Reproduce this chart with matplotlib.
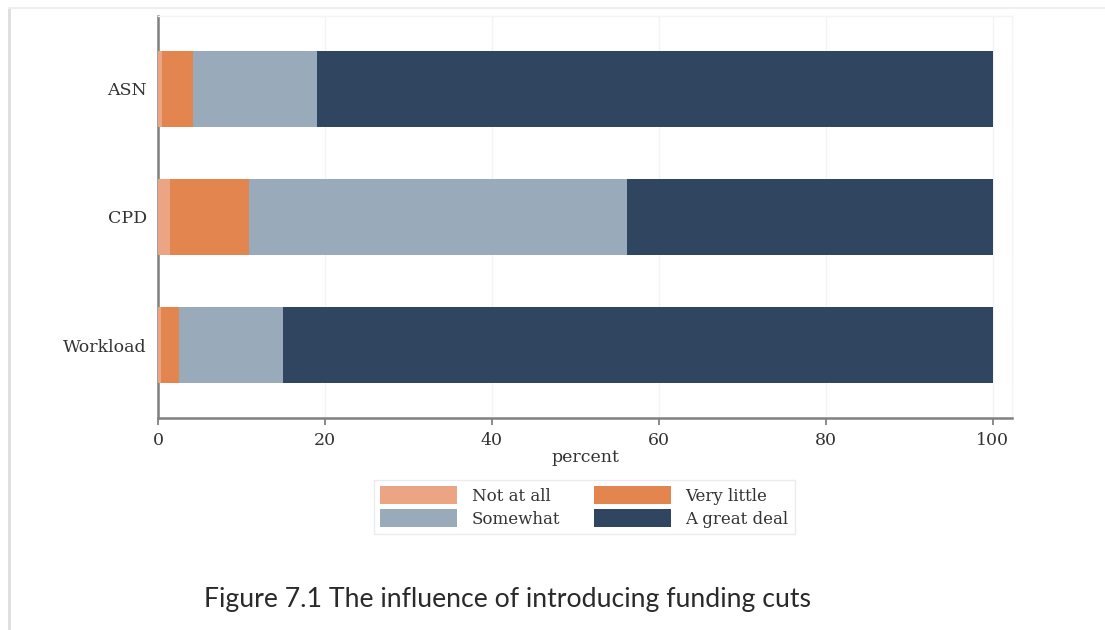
import matplotlib
matplotlib.use("Agg")
import matplotlib.pyplot as plt
import numpy as np
from matplotlib.lines import Line2D

categories = ["Workload", "CPD", "ASN"]
series_names = ["Not at all", "Very little", "Somewhat", "A great deal"]
not_at_all = [0.4, 1.4, 0.5]
very_little = [2.1, 9.5, 3.7]
somewhat = [12.5, 45.3, 14.8]
great_deal = [85.0, 43.8, 81.0]
colors = ["#EBA585", "#E2854F", "#99AABA", "#2F4560"]
xticks = [0, 20, 40, 60, 80, 100]

W, H = 1105, 630
fig = plt.figure(figsize=(W / 100, H / 100), dpi=100)
fig.patch.set_facecolor("white")

ax = fig.add_axes([158 / W, 1 - 418 / H, (1012 - 158) / W, (418 - 16) / H])

serif = ["DejaVu Serif"]
y = np.arange(len(categories))
left = np.zeros(len(categories))
handles = []
for vals, name, c in zip([not_at_all, very_little, somewhat, great_deal], series_names, colors):
    b = ax.barh(y, vals, left=left, height=0.59, color=c, label=name, zorder=3, linewidth=0)
    handles.append(b)
    left += np.array(vals)

ax.set_xlim(0, 102.3)
ax.set_ylim(-0.57, 2.57)
ax.set_yticks(y)
ax.set_yticklabels(categories, fontfamily=serif, fontsize=12.5, color="#333333")
ax.set_xticks(xticks)
ax.set_xticklabels([str(t) for t in xticks], fontfamily=serif, fontsize=12.5, color="#333333")
ax.set_xlabel("percent", fontfamily=serif, fontsize=12.5, color="#333333", labelpad=0)

ax.tick_params(axis="x", length=5, width=1.2, color="#777777", pad=5)
ax.tick_params(axis="y", length=0, pad=8)
ax.grid(axis="x", color="#F3F3F3", linewidth=1, zorder=0)

for s in ["left", "bottom"]:
    ax.spines[s].set_color("#808080")
    ax.spines[s].set_linewidth(1.8)
for s in ["top", "right"]:
    ax.spines[s].set_color("#F4F4F4")
    ax.spines[s].set_linewidth(1)

order = [0, 2, 1, 3]
leg = fig.legend([handles[i] for i in order], [series_names[i] for i in order],
                 loc="center", bbox_to_anchor=(584.5 / W, 1 - 507 / H), ncol=2,
                 prop={"family": serif, "size": 12}, frameon=True, fancybox=False,
                 handlelength=4.6, handleheight=1.3, columnspacing=2.0, handletextpad=0.9,
                 labelspacing=0.25, borderpad=0.4, edgecolor="#E6E6E6")
leg.get_frame().set_linewidth(1)
for t in leg.get_texts():
    t.set_color("#333333")

fig.text(508 / W, 1 - 600 / H, "Figure 7.1 The influence of introducing funding cuts",
         fontfamily="Lato", fontsize=19.2, color="#2A2A2A", ha="center", va="center")

# outer document frame
fig.add_artist(Line2D([9 / W, 9 / W], [0, 1 - 8 / H], transform=fig.transFigure, color="#DDDDDD", linewidth=2))
fig.add_artist(Line2D([9 / W, 1], [1 - 8 / H, 1 - 8 / H], transform=fig.transFigure, color="#EEEEEE", linewidth=1.5))

fig.savefig("out.png", dpi=100)
